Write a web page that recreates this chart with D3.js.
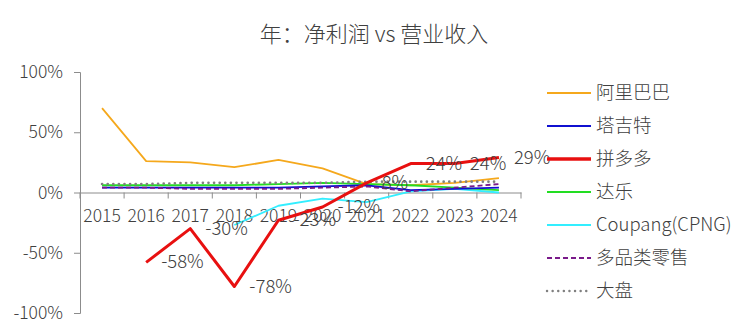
<!DOCTYPE html>
<html>
<head>
<meta charset="utf-8">
<script src="https://cdn.jsdelivr.net/npm/d3@7"></script>
<style>
  body { margin: 0; background: #fff; }
  text { font-family: "Noto Sans CJK SC", "Noto Sans", sans-serif; fill: #404040; font-weight: 300; }
</style>
</head>
<body>
<svg id="chart" width="750" height="333"></svg>
<script>
// 年：净利润 vs 营业收入 (net margin, %)
const years = ['2015', '2016', '2017', '2018', '2019', '2020', '2021', '2022', '2023', '2024'];
const yTicks = [100, 50, 0, -50, -100];

const alibaba = [70, 26, 25, 21, 27, 20, 7, 6, 8, 12];
const target = [4, 4, 4, 4, 4, 5, 6, 2, 3, 4];
const pdd = [null, -58, -30, -78, -23, -12, 8, 24, 24, 29];
const dollarGeneral = [6, 6, 6, 6, 7, 8, 7, 6, 4, 2];
const coupang = [null, null, null, -27, -11, -5, -8, 1, 3, 0];
const multiRetail = [4, 4, 3, 3, 3, 4, 5, 1, 4, 7];
const market = [7, 7, 8, 8, 8, 8, 9, 9, 9, 9];

const seriesNames = ['阿里巴巴', '塔吉特', '拼多多', '达乐', 'Coupang(CPNG)', '多品类零售', '大盘'];
const seriesValues = [alibaba, target, pdd, dollarGeneral, coupang, multiRetail, market];
const seriesStyle = [
  { color: '#F5A81C', width: 1.8 },
  { color: '#1010D0', width: 1.8 },
  { color: '#E81010', width: 3 },
  { color: '#22DD22', width: 1.8 },
  { color: '#33EEFF', width: 1.8 },
  { color: '#7A1A8A', width: 1.8, dash: '5 3' },
  { color: '#808080', width: 2.6, dash: '0.1 5.5', cap: 'round' }
];

const svg = d3.select('#chart');

const x = d3.scaleBand()
  .domain(years)
  .range([80, 521]);

const y = d3.scaleLinear()
  .domain([-100, 100])
  .range([313, 72]);

// title
svg.append('text')
  .attr('x', 374)
  .attr('y', 36)
  .attr('text-anchor', 'middle')
  .attr('dominant-baseline', 'middle')
  .attr('font-size', '22px')
  .text('年：净利润 vs 营业收入');

// y axis
const yAxis = svg.append('g')
  .attr('transform', 'translate(80,0)')
  .call(d3.axisLeft(y).tickValues(yTicks).tickSize(6).tickPadding(11).tickFormat(d => d + '%'));
yAxis.select('.domain').attr('stroke', '#8c8c8c');
yAxis.selectAll('.tick line').attr('stroke', '#8c8c8c');
yAxis.selectAll('.tick text').attr('font-size', '17.5px').attr('fill', '#404040');

// x axis at zero
const xAxis = svg.append('g')
  .attr('transform', `translate(0,${y(0)})`)
  .call(d3.axisBottom(x).tickSize(0).tickPadding(17));
xAxis.select('.domain').attr('stroke', '#8c8c8c');
xAxis.selectAll('.tick text').attr('font-size', '17.5px').attr('fill', '#404040');
xAxis.selectAll('.bound')
  .data(d3.range(years.length + 1))
  .enter()
  .append('line')
  .attr('class', 'bound')
  .attr('x1', i => x.range()[0] + i * x.step())
  .attr('x2', i => x.range()[0] + i * x.step())
  .attr('y1', 0)
  .attr('y2', 6)
  .attr('stroke', '#8c8c8c');

// lines
const line = d3.line()
  .defined(d => d != null)
  .x((d, i) => x(years[i]) + x.bandwidth() / 2)
  .y(d => y(d));

const drawOrder = [0, 4, 3, 1, 5, 6, 2];
drawOrder.forEach(k => {
  const st = seriesStyle[k];
  svg.append('path')
    .datum(seriesValues[k])
    .attr('fill', 'none')
    .attr('stroke', st.color)
    .attr('stroke-width', st.width)
    .attr('stroke-dasharray', st.dash || null)
    .attr('stroke-linecap', st.cap || 'butt')
    .attr('stroke-linejoin', 'round')
    .attr('d', line);
});

// data labels for 拼多多
svg.selectAll('.pdd-label')
  .data(pdd.map((v, i) => ({ v, year: years[i] })).filter(d => d.v != null))
  .enter()
  .append('text')
  .attr('class', 'pdd-label')
  .attr('x', d => x(d.year) + x.bandwidth() / 2 + 15)
  .attr('y', d => y(d.v) + 1)
  .attr('dominant-baseline', 'middle')
  .attr('font-size', '18.5px')
  .text(d => d.v + '%');

// legend
const legend = svg.append('g');
seriesNames.forEach((name, i) => {
  const st = seriesStyle[i];
  const ly = 93 + i * 33;
  legend.append('line')
    .attr('x1', 547).attr('x2', 591)
    .attr('y1', ly).attr('y2', ly)
    .attr('stroke', st.color)
    .attr('stroke-width', i === 2 ? 3.5 : (i === 6 ? 2.4 : 2))
    .attr('stroke-dasharray', st.dash || null)
    .attr('stroke-linecap', st.cap || 'butt');
  legend.append('text')
    .attr('x', 596)
    .attr('y', ly + 1)
    .attr('dominant-baseline', 'middle')
    .attr('font-size', '18.5px')
    .text(name);
});
</script>
</body>
</html>
